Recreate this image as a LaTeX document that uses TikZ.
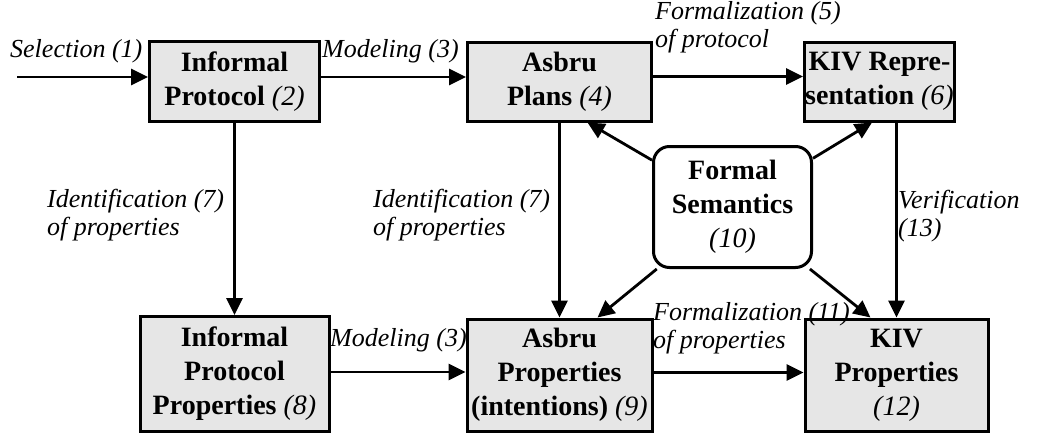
\documentclass[tikz,border=0pt]{standalone}
\usepackage{fontspec}
\setmainfont{Liberation Serif}
\usepackage{tikz}
\usetikzlibrary{positioning}
\usetikzlibrary{arrows.meta}

\definecolor{boxgray}{HTML}{E6E6E6}

\newcommand{\stagenum}[1]{\textit{\mdseries(#1)}}

\tikzset{
    stage/.style={draw, line width=3pt, fill=boxgray, align=center, inner sep=0pt,
        font=\fontsize{28}{34}\selectfont\bfseries},
    semantics/.style={stage, fill=white, rounded corners=16pt},
    flow/.style={line width=2.8pt, -{Triangle[length=17pt, width=16pt]}},
    lbl/.style={anchor=base west, inner sep=0pt, align=left,
        font=\fontsize{26}{28}\selectfont\itshape},
}

\begin{document}
\begin{tikzpicture}[x=1pt, y=-1pt]
    \useasboundingbox (0,0) rectangle (1037,434);

    % top row
    \node[stage, minimum width=170pt, minimum height=80pt] (ip) at (234.5,81.5) {Informal\\Protocol \stagenum{2}};
    \node[stage, minimum width=184pt, minimum height=79pt, right=145pt of ip] (ap) {Asbru\\Plans \stagenum{4}};
    \node[stage, minimum width=150pt, minimum height=79pt, right=150pt of ap] (kr) {KIV Repre-\\sentation \stagenum{6}};

    % semantics in the middle
    \node[semantics, minimum width=158pt, minimum height=121pt] (fs) at (732.5,207) {Formal\\Semantics\\\stagenum{10}};

    % bottom row
    \node[stage, minimum width=189pt, minimum height=115pt, below=192pt of ip] (ipp) {Informal\\Protocol\\Properties \stagenum{8}};
    \node[stage, minimum width=185pt, minimum height=112pt, below=195pt of ap] (apr) {Asbru\\Properties\\(intentions) \stagenum{9}};
    \node[stage, minimum width=183pt, minimum height=112pt, right=150pt of apr] (kp) {KIV\\Properties\\\stagenum{12}};

    % connectors
    \coordinate (in) at (17,77);
    \draw[flow] (in) -- (in -| ip.west);
    \draw[flow] (in -| ip.east) -- (in -| ap.west);
    \draw[flow] ([yshift=5pt]ap.east) -- ([yshift=5pt]ap.east -| kr.west);
    \draw[flow] (ip) -- (ipp);
    \draw[flow] (ap) -- (apr);
    \draw[flow] (kp.north |- kr.south) -- (kp.north);
    \draw[flow] ([yshift=2pt]ipp.east) -- ([yshift=2pt]ipp.east -| apr.west);
    \draw[flow] ([yshift=2.5pt]apr.east) -- ([yshift=2.5pt]apr.east -| kp.west);

    \draw[flow] (fs) -- ([xshift=28pt]ap.south);
    \draw[flow] (fs) -- ([xshift=-7.5pt]kr.south);
    \draw[flow] (fs) -- ([xshift=38pt]apr.north);
    \draw[flow] (fs) -- ([xshift=-26pt]kp.north);

    % labels (base = last line)
    \node[lbl] (sel) at (10,57) {Selection (1)};
    \node[lbl] (mod1) at (322,57) {Modeling (3)};
    \node[lbl] (frm5) at (655,47) {Formalization (5)\\of protocol};
    \node[lbl] (idf1) at (47,235) {Identification (7)\\of properties};
    \node[lbl] (idf2) at (373,235) {Identification (7)\\of properties};
    \node[lbl] (ver) at (898,236) {Verification\\(13)};
    \node[lbl] (mod2) at (330,346) {Modeling (3)};
    \node[lbl] (frm11) at (653,348) {Formalization (11)\\of properties};
\end{tikzpicture}
\end{document}
